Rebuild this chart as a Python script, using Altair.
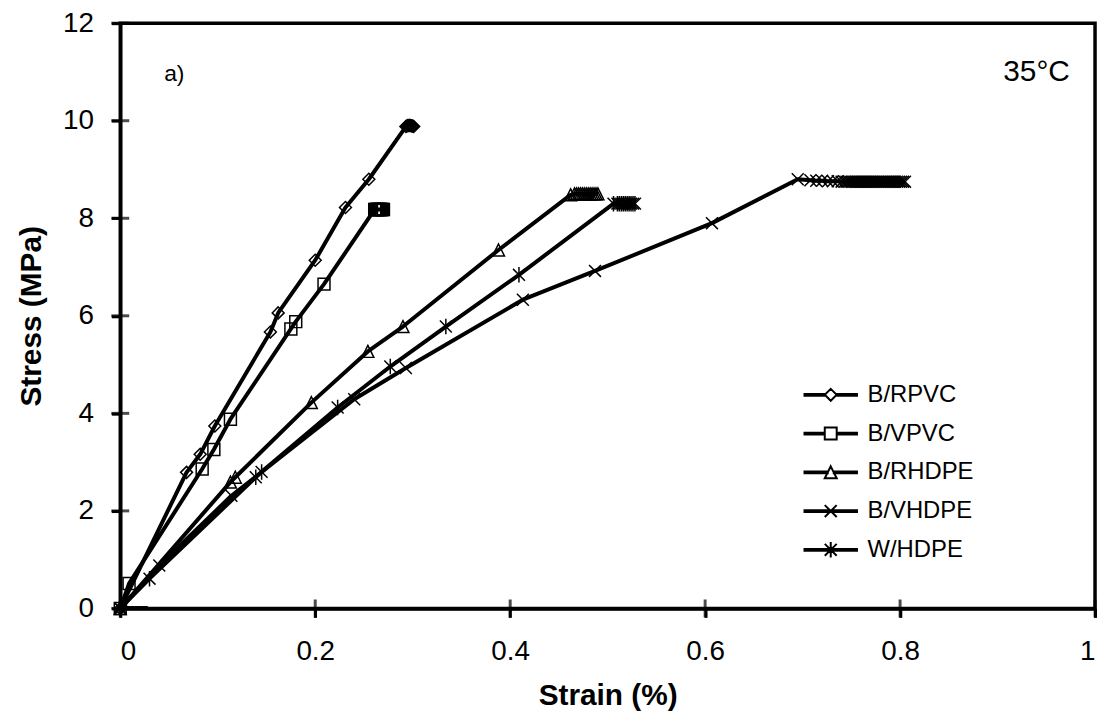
import altair as alt
import pandas as pd

series_names = ["B/RPVC", "B/VPVC", "B/RHDPE", "B/VHDPE", "W/HDPE"]

rpvc_strain = [0, 0.068, 0.082, 0.097, 0.154, 0.162, 0.200, 0.231, 0.255,
               0.293, 0.294, 0.295, 0.296, 0.297, 0.298, 0.299, 0.300, 0.301]
rpvc_stress = [0, 2.79, 3.16, 3.74, 5.67, 6.06, 7.14, 8.22, 8.80,
               9.88, 9.89, 9.90, 9.90, 9.90, 9.90, 9.89, 9.89, 9.88]

vpvc_strain = [0, 0.009, 0.084, 0.096, 0.113, 0.175, 0.180, 0.209,
               0.261, 0.262, 0.263, 0.264, 0.265, 0.266, 0.267, 0.268, 0.269, 0.270]
vpvc_stress = [0, 0.51, 2.86, 3.26, 3.88, 5.73, 5.88, 6.65,
               8.18, 8.18, 8.18, 8.18, 8.18, 8.18, 8.18, 8.18, 8.18, 8.18]

rhdpe_strain = [0, 0.113, 0.118, 0.196, 0.254, 0.290, 0.388,
                0.462, 0.466, 0.468, 0.470, 0.472, 0.474, 0.476, 0.478,
                0.480, 0.482, 0.484, 0.486, 0.488, 0.490]
rhdpe_stress = [0, 2.59, 2.69, 4.22, 5.27, 5.78, 7.35,
                8.48, 8.50, 8.50, 8.50, 8.50, 8.50, 8.50, 8.50,
                8.50, 8.50, 8.50, 8.50, 8.50, 8.50]

vhdpe_strain = [0, 0.040, 0.114, 0.240, 0.293, 0.413, 0.487, 0.607, 0.695,
                0.708, 0.714, 0.720, 0.726, 0.731, 0.736, 0.740, 0.743, 0.745,
                0.747, 0.749, 0.751, 0.753, 0.755, 0.757, 0.759, 0.761, 0.763,
                0.765, 0.767, 0.769, 0.771, 0.773, 0.775, 0.777, 0.779, 0.781,
                0.783, 0.785, 0.787, 0.789, 0.791, 0.793, 0.795, 0.797, 0.799,
                0.801, 0.803, 0.805]
vhdpe_stress = [0, 0.88, 2.31, 4.29, 4.93, 6.33, 6.92, 7.90, 8.80,
                8.78, 8.77, 8.77, 8.76, 8.76, 8.76, 8.75, 8.75, 8.75,
                8.75, 8.75, 8.75, 8.75, 8.75, 8.75, 8.75, 8.75, 8.75,
                8.75, 8.75, 8.75, 8.75, 8.75, 8.75, 8.75, 8.75, 8.75,
                8.75, 8.75, 8.75, 8.75, 8.75, 8.75, 8.75, 8.75, 8.75,
                8.75, 8.75, 8.75]

whdpe_strain = [0, 0.030, 0.139, 0.145, 0.223, 0.277, 0.334, 0.409,
                0.506, 0.510, 0.512, 0.514, 0.516, 0.518, 0.520, 0.522, 0.524, 0.526, 0.528]
whdpe_stress = [0, 0.61, 2.69, 2.80, 4.12, 4.96, 5.78, 6.84,
                8.30, 8.30, 8.30, 8.30, 8.30, 8.30, 8.30, 8.30, 8.30, 8.30, 8.30]

x_ticks = [0, 0.2, 0.4, 0.6, 0.8, 1.0]
y_ticks = [0, 2, 4, 6, 8, 10, 12]

label_a = ["a)"]
label_a_x = [0.045]
label_a_y = [10.96]
label_t = ["35°C"]
label_t_x = [0.94]
label_t_y = [11.0]

# marker shapes (unit paths)
marker_paths = [
    "M0,-1L1,0L0,1L-1,0Z",
    "M-1,-1L1,-1L1,1L-1,1Z",
    "M0,-1L1,1L-1,1Z",
    "M-1,-1L1,1M-1,1L1,-1",
    "M-1,-1L1,1M-1,1L1,-1M0,-1.3L0,1.3",
]
seg_split = "M-4.4,-0.15L-1,-0.15L-1,0.15L-4.4,0.15Z M1,-0.15L4.4,-0.15L4.4,0.15L1,0.15Z "
seg_tri = "M-4.4,-0.15L-0.5,-0.15L-0.5,0.15L-4.4,0.15Z M0.5,-0.15L4.4,-0.15L4.4,0.15L0.5,0.15Z "
seg_full = "M-4.4,-0.15L4.4,-0.15L4.4,0.15L-4.4,0.15Z "
legend_paths = [
    seg_split + marker_paths[0],
    seg_split + marker_paths[1],
    seg_tri + marker_paths[2],
    seg_full + marker_paths[3],
    seg_full + marker_paths[4],
]

rows = []
for name, xs, ys in zip(series_names,
                        [rpvc_strain, vpvc_strain, rhdpe_strain, vhdpe_strain, whdpe_strain],
                        [rpvc_stress, vpvc_stress, rhdpe_stress, vhdpe_stress, whdpe_stress]):
    for i, (a, b) in enumerate(zip(xs, ys)):
        rows.append({"series": name, "idx": i, "strain": a, "stress": b})
df = pd.DataFrame(rows)

W, H = 981, 589
FONT = "Liberation Sans"

xscale = alt.Scale(domain=[0, 1], nice=False, zero=False)
yscale = alt.Scale(domain=[0, 12], nice=False, zero=False)
xaxis = alt.Axis(values=x_ticks, title="Strain (%)", labelExpr="datum.value == 0 ? '0' : (datum.value == 1 ? '1' : format(datum.value, '.1f'))")
yaxis = alt.Axis(values=y_ticks, title="Stress (MPa)", format="d")

X = alt.X("strain:Q", scale=xscale, axis=xaxis)
Y = alt.Y("stress:Q", scale=yscale, axis=yaxis)

base = alt.Chart(df)

lines = base.mark_line(color="black", strokeWidth=4, strokeJoin="round").encode(
    x=X, y=Y, detail="series:N", order="idx:Q"
)

points = base.mark_point(filled=False, stroke="black", strokeWidth=1.5, opacity=1, size=144).encode(
    x=X, y=Y,
    shape=alt.Shape("series:N", scale=alt.Scale(domain=series_names, range=marker_paths), legend=None),
)

legend_layer = base.transform_filter("datum.idx == 0").mark_point(
    filled=False, stroke="black", strokeWidth=2, opacity=1, size=144, clip=True
).encode(
    x=X, y=Y,
    shape=alt.Shape(
        "series:N",
        scale=alt.Scale(domain=series_names, range=legend_paths),
        legend=alt.Legend(
            title=None, orient="none", legendX=703, legendY=362,
            symbolSize=144, symbolStrokeWidth=2, symbolStrokeColor="black",
            labelFont=FONT, labelFontSize=24, labelColor="black",
            labelOffset=25, rowPadding=15, padding=0,
        ),
    ),
)

xt_df = pd.DataFrame({"strain": x_ticks})
yt_df = pd.DataFrame({"stress": y_ticks})
xticks_layer = alt.Chart(xt_df).mark_tick(orient="vertical", size=18, thickness=3, color="black").encode(
    x=X, y=alt.value(H)
)
yticks_layer = alt.Chart(yt_df).mark_tick(orient="horizontal", size=18, thickness=3, color="black").encode(
    y=Y, x=alt.value(0)
)

ann_a = alt.Chart(pd.DataFrame({"t": label_a, "strain": label_a_x, "stress": label_a_y})).mark_text(
    align="left", baseline="middle", font=FONT, fontSize=23, color="black"
).encode(x=X, y=Y, text="t:N")
ann_t = alt.Chart(pd.DataFrame({"t": label_t, "strain": label_t_x, "stress": label_t_y})).mark_text(
    align="center", baseline="middle", font=FONT, fontSize=30, color="black"
).encode(x=X, y=Y, text="t:N")

chart = alt.layer(
    legend_layer, lines, points, xticks_layer, yticks_layer, ann_a, ann_t
).resolve_scale(shape="independent").properties(
    width=W, height=H,
    autosize=alt.AutoSizeParams(type="none"),
    padding={"left": 113, "top": 13, "right": 6, "bottom": 110},
).configure_view(
    stroke="black", strokeWidth=3.5
).configure_axis(
    domainColor="black", domainWidth=3.5, tickColor="black", tickWidth=3, tickSize=9,
    labelFont=FONT, labelFontSize=28, labelColor="black",
    titleFont=FONT, titleFontSize=30, titleFontWeight="bold", titleColor="black",
    grid=False, zindex=1,
).configure_axisX(
    labelPadding=20, titlePadding=16,
).configure_axisY(
    labelPadding=18, titlePadding=16,
)

chart.save("out.html", embed_options={"renderer": "svg", "actions": False})
